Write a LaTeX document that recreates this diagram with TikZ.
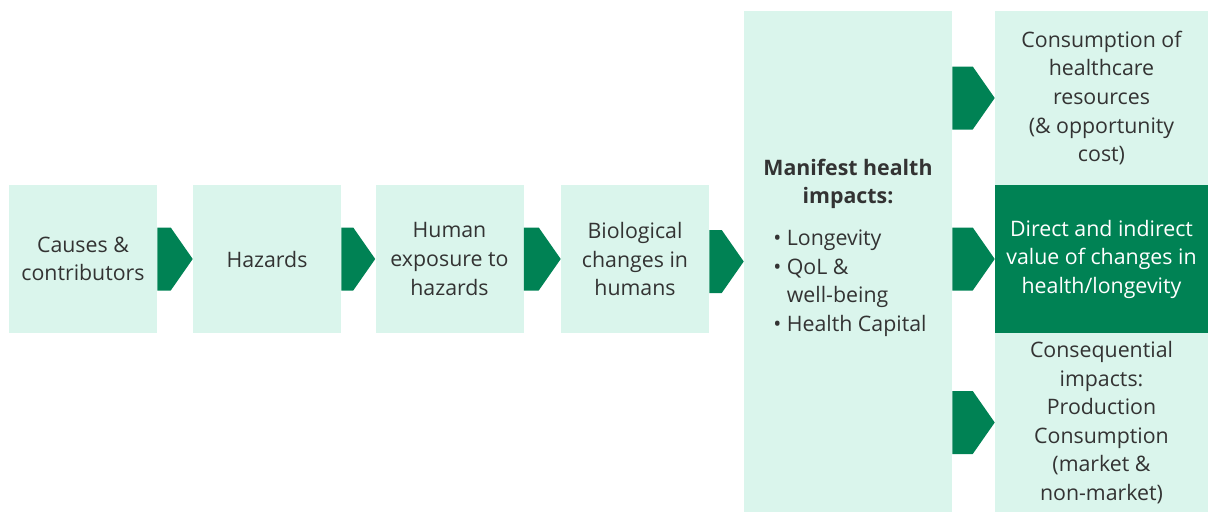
\documentclass[tikz,border=0pt]{standalone}
\usepackage{fontspec}
\setmainfont{Open Sans}
\usetikzlibrary{calc}

\definecolor{mint}{RGB}{218,245,236}
\definecolor{leaf}{RGB}{0,130,84}
\definecolor{ink}{RGB}{51,51,51}

\tikzset{
  stage/.style={fill=mint, text=ink, align=center, inner sep=0pt,
    font=\fontsize{16}{21.4}\selectfont},
  square/.style={stage, minimum width=111pt, minimum height=111pt},
  valuebox/.style={stage, minimum width=159.75pt},
  chev/.style={fill=leaf},
}

% chevron from one box to the next, tip on the west side of the target
\newcommand{\chevron}[2]{%
  \fill[chev] ($(#1.east |- #2.west)+(0,31.5)$) -- ($(#2.west)+(-22,31.5)$)
    -- (#2.west) -- ($(#2.west)+(-22,-31.5)$)
    -- ($(#1.east |- #2.west)+(0,-31.5)$) -- cycle;}

\begin{document}
\begin{tikzpicture}[x=0.75pt, y=-0.75pt]
  \useasboundingbox (0,0) rectangle (1208,512);

  \node[square] (causes)   at (83,259)    {Causes \&\\contributors};
  \node[square] (hazards)  at (267,259)   {Hazards};
  \node[square] (exposure) at (449.5,259) {Human\\exposure to\\hazards};
  \node[square] (bio)      at (635,259)   {Biological\\changes in\\humans};

  \node[stage, minimum width=156pt, minimum height=375.75pt] (manifest) at (848,261.5) {};
  \node[text=ink, align=center, inner sep=0pt, font=\fontsize{16}{21.4}\selectfont\bfseries]
    (mhead) at (848,184) {Manifest health\\impacts:};
  \node[text=ink, align=left, inner sep=0pt, anchor=west, font=\fontsize{16}{21.4}\selectfont]
    (mlist) at (773,283) {•\ Longevity\\•\ QoL \&\\\hphantom{•\ }well-being\\•\ Health Capital};

  \node[valuebox, minimum height=130.5pt] (costs) at (1101.5,98)
    {Consumption of\\healthcare\\resources\\(\& opportunity\\cost)};
  \node[valuebox, minimum height=111pt, fill=leaf, text=white] (value) at (1101.5,259)
    {Direct and indirect\\value of changes in\\health/longevity};
  \node[valuebox, minimum height=134.25pt] (conseq) at (1101.5,422.5)
    {Consequential\\impacts:\\Production\\Consumption\\(market \&\\non-market)};

  \chevron{causes}{hazards}
  \chevron{hazards}{exposure}
  \chevron{exposure}{bio}
  \chevron{bio}{manifest}
  \chevron{manifest}{costs}
  \chevron{manifest}{value}
  \chevron{manifest}{conseq}
\end{tikzpicture}
\end{document}
